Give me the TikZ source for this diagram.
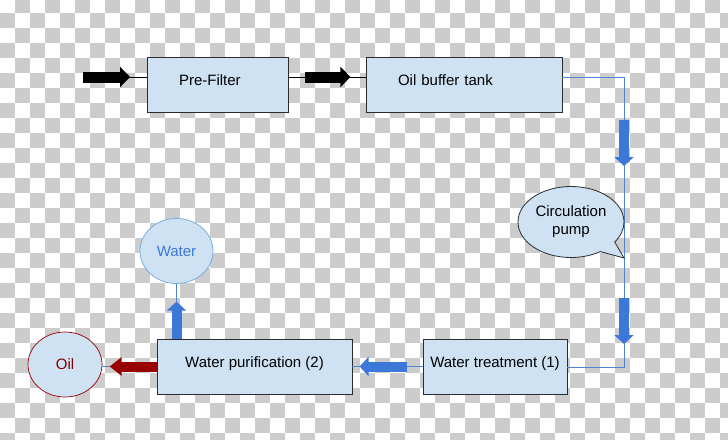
\documentclass[tikz,border=0pt]{standalone}
\usepackage{fontspec}
\setmainfont{Liberation Sans}
\usetikzlibrary{arrows.meta,shapes.geometric,shapes.callouts,positioning,calc}

\definecolor{boxfill}{HTML}{CFE2F3}
\definecolor{boxline}{HTML}{2B2B2B}
\definecolor{flowblue}{HTML}{3C78D8}
\definecolor{lineblue}{HTML}{4F86D4}
\definecolor{oilred}{HTML}{990000}
\definecolor{watercircle}{HTML}{6FA8DC}
\definecolor{checker}{HTML}{CCCCCC}

\newcommand*{\picw}{728}
\newcommand*{\pich}{439}
\newcommand*{\sqsize}{15}

\begin{document}
\begin{tikzpicture}
[
	x=1pt,y=-1pt,
	font=\fontsize{15}{18}\selectfont,
	box/.style={draw=boxline,fill=boxfill,line width=0.8pt,minimum height=55pt,inner ysep=0pt,text height=10.7pt,text depth=8pt},
	leftbox/.style={box,align=left,inner xsep=32pt},
	midbox/.style={box,inner xsep=0pt},
	tank/.style={ellipse,fill=boxfill,line width=0.7pt,inner sep=0pt},
	thinblack/.style={draw=black,line width=0.7pt},
	thinblue/.style={draw=lineblue,line width=1pt},
	blackarrow/.style={line width=11pt,-{Triangle[length=10pt,width=20pt]}},
	bluearrow/.style={flowblue,line width=10pt,-{Triangle[length=9pt,width=19pt]}},
	redarrow/.style={oilred,line width=10pt,-{Triangle[length=12pt,width=18pt]}}
]

	\useasboundingbox (0,0) rectangle (\picw,\pich);

	% background
	\begin{scope}
		\clip (0,0) rectangle (\picw,\pich);
		\fill[white] (0,0) rectangle (\picw,\pich);
		\foreach \i in {0,...,48} {
			\foreach \j in {0,...,29} {
				\pgfmathtruncatemacro{\odd}{mod(\i+\j,2)}
				\ifnum\odd=1
					\fill[checker] (\i*\sqsize,\j*\sqsize-1.7) rectangle ++(\sqsize,\sqsize);
				\fi
			}
		}
	\end{scope}

	% boxes
	\node[leftbox,text width=77pt] (prefilter) at (217.5,84.5) {Pre-Filter};
	\node[leftbox,text width=132pt] (buffer) at (464,84.5) {Oil buffer tank};
	\node[midbox,minimum width=144pt] (treatment) at (495,366.5) {Water treatment (1)};
	\node[midbox,minimum width=195pt] (purification) at (254.5,366.5) {Water purification (2)};

	% outputs
	\node[tank,draw=oilred,text=oilred!85!black,minimum width=74pt,minimum height=65pt] (oil) at (65,364.5) {Oil};
	\node[tank,draw=watercircle,text=flowblue,minimum width=73pt,minimum height=65pt] (water) at (176.5,251) {Water};

	% feed
	\coordinate (feed) at (83,77);
	\draw[thinblack] (feed) -- (feed -| prefilter.west);
	\draw[blackarrow] (feed) -- ++(47,0);

	\draw[thinblack] ([yshift=7.5pt]prefilter.east) -- ([yshift=7.5pt]buffer.west);
	\draw[blackarrow] ([xshift=17pt,yshift=7.5pt]prefilter.east) -- ++(45,0);

	% circulation loop
	\coordinate (loopse) at (624,367);
	\draw[thinblue] ([yshift=7.5pt]buffer.east) -| (loopse) -- (loopse -| treatment.east);
	\draw[bluearrow] (624,120) -- (624,166);
	\draw[bluearrow] (624,298) -- (624,344);

	\node[ellipse callout,draw=boxline,fill=boxfill,line width=0.8pt,minimum width=106pt,minimum height=71pt,
		inner sep=0pt,align=center,callout pointer arc=22,callout absolute pointer={(624,258)}] (pump) at (571,222) {Circulation\\pump};

	% treatment to purification
	\draw[thinblue] (treatment.west) -- (purification.east);
	\draw[bluearrow] ([xshift=-16pt]treatment.west) -- ++(-47,0);

	% purification outputs
	\draw[thinblue] (purification.west) -- (purification.west -| oil.east);
	\draw[redarrow] (purification.west) -- ++(-47,0);
	\draw[thinblue] (water.south |- purification.north) -- (water.south);
	\draw[bluearrow] (water.south |- purification.north) -- ++(0,-37);

\end{tikzpicture}
\end{document}
